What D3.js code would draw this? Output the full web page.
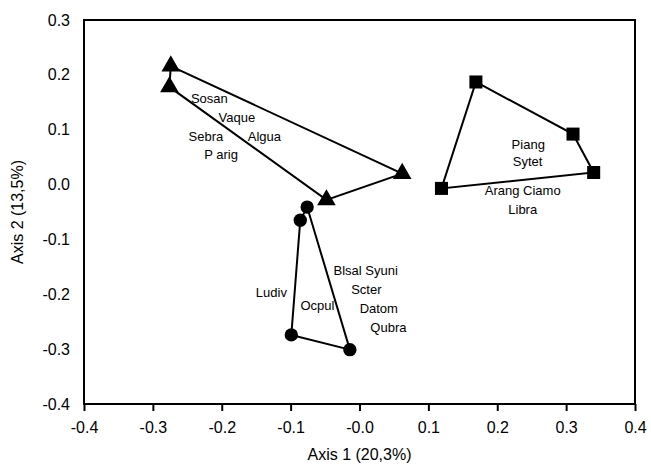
<!DOCTYPE html>
<html>
<head>
<meta charset="utf-8">
<script src="https://cdn.jsdelivr.net/npm/d3@7"></script>
<style>
  body { margin: 0; background: #fff; }
  svg text { font-family: "Liberation Sans", Arial, Helvetica, sans-serif; fill: #000; }
</style>
</head>
<body>
<svg id="chart" width="651" height="467"></svg>
<script>
(function () {

  'use strict';

  // group hull points (axis 1, axis 2)
  var triangles = [[-0.274, 0.216], [0.062, 0.020], [-0.048, -0.028], [-0.276, 0.178]];
  var circles = [[-0.076, -0.041], [-0.014, -0.301], [-0.099, -0.274], [-0.086, -0.065]];
  var squares = [[0.169, 0.187], [0.310, 0.092], [0.340, 0.022], [0.119, -0.007]];

  // species labels
  var speciesNames = ['Sosan', 'Vaque', 'Sebra', 'Algua', 'P arig',
    'Blsal Syuni', 'Scter', 'Datom', 'Qubra', 'Ludiv', 'Ocpul',
    'Piang', 'Sytet', 'Arang Ciamo', 'Libra'];
  var speciesX = [-0.218, -0.178, -0.223, -0.138, -0.201,
    0.009, 0.010, 0.028, 0.042, -0.128, -0.061,
    0.245, 0.244, 0.237, 0.237];
  var speciesY = [0.157, 0.122, 0.087, 0.087, 0.055,
    -0.156, -0.191, -0.226, -0.260, -0.197, -0.220,
    0.074, 0.042, -0.010, -0.045];

  var xTicks = [-0.4, -0.3, -0.2, -0.1, 0, 0.1, 0.2, 0.3, 0.4];
  var xTickLabels = ['-0.4', '-0.3', '-0.2', '-0.1', '-0.0', '0.1', '0.2', '0.3', '0.4'];
  var yTicks = [0.3, 0.2, 0.1, 0, -0.1, -0.2, -0.3, -0.4];
  var yTickLabels = ['0.3', '0.2', '0.1', '0.0', '-0.1', '-0.2', '-0.3', '-0.4'];

  var xTitle = 'Axis 1 (20,3%)';
  var yTitle = 'Axis 2 (13,5%)';

  var left = 84, right = 635, top = 20, bottom = 404;

  var svg = d3.select('#chart');

  var x = d3.scaleLinear().domain([-0.4, 0.4]).range([left, right]);
  var y = d3.scaleLinear().domain([-0.4, 0.3]).range([bottom, top]);

  // ----------- AXES --------------

  var xAxis = d3.axisBottom(x)
    .tickValues(xTicks)
    .tickSize(7)
    .tickPadding(11)
    .tickFormat(function (d, i) { return xTickLabels[i]; });

  svg.append('g')
    .attr('transform', 'translate(0,' + bottom + ')')
    .call(xAxis)
    .call(function (g) {
      g.select('.domain').remove();
      g.selectAll('line').attr('stroke', '#000').attr('stroke-width', 2);
      g.selectAll('text').attr('font-size', 16).attr('font-family', '"Liberation Sans", Arial, sans-serif').attr('fill', '#000');
    });

  var yAxis = d3.axisLeft(y)
    .tickValues(yTicks)
    .tickSize(0)
    .tickPadding(14)
    .tickFormat(function (d, i) { return yTickLabels[i]; });

  svg.append('g')
    .attr('transform', 'translate(' + left + ',0)')
    .call(yAxis)
    .call(function (g) {
      g.select('.domain').remove();
      g.selectAll('text').attr('font-size', 16).attr('font-family', '"Liberation Sans", Arial, sans-serif').attr('fill', '#000');
    });

  // frame
  svg.append('rect')
    .attr('x', left)
    .attr('y', top)
    .attr('width', right - left)
    .attr('height', bottom - top)
    .attr('fill', 'none')
    .attr('stroke', '#000')
    .attr('stroke-width', 2);

  svg.append('text')
    .attr('x', (left + right) / 2)
    .attr('y', 460)
    .attr('text-anchor', 'middle')
    .attr('font-size', 16)
    .text(xTitle);

  svg.append('text')
    .attr('transform', 'translate(23,' + (top + bottom) / 2 + ') rotate(-90)')
    .attr('text-anchor', 'middle')
    .attr('font-size', 16)
    .text(yTitle);

  // ----------- HULLS --------------

  var line = d3.line()
    .x(function (d) { return x(d[0]); })
    .y(function (d) { return y(d[1]); })
    .curve(d3.curveLinearClosed);

  var groups = [
    { pts: triangles, shape: d3.symbolTriangle, size: 150 },
    { pts: circles, shape: d3.symbolCircle, size: 140 },
    { pts: squares, shape: d3.symbolSquare, size: 170 }
  ];

  groups.forEach(function (grp) {
    svg.append('path')
      .attr('d', line(grp.pts))
      .attr('fill', 'none')
      .attr('stroke', '#000')
      .attr('stroke-width', 2);

    svg.append('g')
      .selectAll('path')
      .data(grp.pts)
      .enter()
      .append('path')
      .attr('transform', function (d) { return 'translate(' + x(d[0]) + ',' + y(d[1]) + ')'; })
      .attr('d', d3.symbol().type(grp.shape).size(grp.size))
      .attr('fill', '#000');
  });

  // ----------- SPECIES LABELS --------------

  svg.append('g')
    .selectAll('text')
    .data(speciesNames)
    .enter()
    .append('text')
    .attr('x', function (d, i) { return x(speciesX[i]); })
    .attr('y', function (d, i) { return y(speciesY[i]); })
    .attr('dy', '0.35em')
    .attr('text-anchor', 'middle')
    .attr('font-size', 13)
    .text(function (d) { return d; });

})();
</script>
</body>
</html>
